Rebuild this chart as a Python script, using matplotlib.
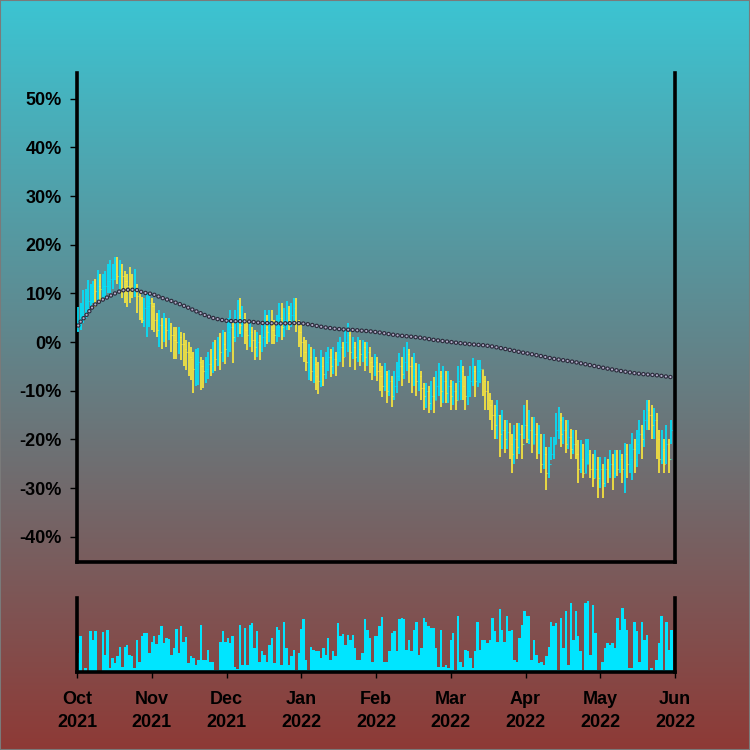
import numpy as np
import pandas as pd
import matplotlib
matplotlib.use("Agg")
import matplotlib.pyplot as plt
from matplotlib.patches import Rectangle

plt.rcParams['font.family'] = ['Liberation Sans', 'DejaVu Sans']
plt.rcParams['lines.scale_dashes'] = False

# Month labels under the volume panel
month_labels = ['Oct\n2021', 'Nov\n2021', 'Dec\n2021', 'Jan\n2022', 'Feb\n2022',
                'Mar\n2022', 'Apr\n2022', 'May\n2022', 'Jun\n2022']

# Daily close, high and low in percent (Oct 1 2021 .. May 31 2022)
close_pct = [
    # Oct
    3.4, 5, 6, 7, 8.5, 10, 11.5, 10.5, 11.5, 11, 11.5, 11.5, 12.5, 13, 13, 14,
    13.5, 14.5, 13.5, 12.5, 11.5, 11, 10.5, 10.5, 9.5, 5, 4.5, 7, 7.5, 8, 7.5,
    # Nov
    4.5, 2.5, 3.5, 2, 3, 2.5, 3.5, 1.5, 0.5, 0, 1, -0.5, -1.5, -2, -3, -3.5,
    -5.5, -4.5, -4, -5, -6, -5.5, -4.5, -5, -3, -3.5, -1.5, -2, -0.5, -1.5,
    # Dec
    2, 3, 1, 4, 5.5, 3.5, 5, 2.5, 1.5, 2, 0.5, -1, 0, -1.5, 1, 3,
    2, 4, 2.5, 1.5, 3, 5, 3, 4.5, 6, 4.5, 5.5, 7, 4, 2, 0,
    # Jan
    -2, -4, -3, -6, -4.5, -7, -8, -5, -6.5, -4, -3, -5, -3.5, -4.5, -2, -1,
    -3, 0, 1.5, -2, -1, -3, -1.5, -2.5, -1, -3, -2, -4, -5, -4, -6,
    # Feb
    -7, -9, -6.5, -10, -8, -11, -9, -7, -5, -6.5, -4, -2.5, -5, -7,
    -5.5, -8, -7, -9.5, -11, -10, -12.5, -11, -12, -9, -7, -10, -8, -10.5,
    # Mar
    -9, -11, -10, -12, -8, -6, -9, -11, -10, -8, -6, -8, -6, -5.5, -8, -10,
    -12, -13, -15, -17, -15, -19, -18, -20, -18.5, -21, -23, -20, -21.5, -19, -21,
    # Apr
    -17, -20, -18, -21, -19, -22, -20, -25, -23, -27, -25, -23, -21, -18, -16,
    -19, -18, -21, -19.5, -22, -21, -23, -26, -24, -27, -25, -23, -26, -28, -26,
    # May
    -28, -26, -29, -26, -27, -25, -27, -24, -26, -24, -26, -23, -25, -24, -22, -24,
    -21, -19, -20, -16, -14, -15, -17, -16, -20, -24, -22, -25, -21, -24, -18,
]
high_pct = [
    7.2, 8, 10.7, 11, 12.7, 12, 12.5, 13, 14.8, 14, 14, 14.5, 16, 16.8, 16, 17.5,
    17.5, 16.8, 16, 14.5, 14, 15.4, 14, 15, 12, 10.7, 9.3, 9, 10, 10, 9,
    8, 6, 6.5, 5, 6, 5, 5, 4, 3, 3, 3, 2, 1.8, 0.5, 0, -1,
    -2, -1.5, -1.2, -3, -3.7, -3, -2, -1.5, 0, 0.5, 1, 1.8, 2.5, 2,
    5, 6.6, 4, 6.5, 8.6, 9, 7.5, 6, 4.5, 4.5, 3, 2.5, 2, 1.5, 4, 6.6,
    5.5, 6.6, 6.6, 4.5, 5.5, 8, 8, 7, 8.5, 7.5, 8, 9, 9, 4.5, 3.5,
    1, 0.4, -0.5, -1, -1.5, -3, -4, -1.6, -3, -2, -1, -1.5, -1, -2, 0, 1,
    0, 2.5, 3.9, 2, 1, 0, 1, 0.5, 0.4, 0, 0, -1, -3, -2.5, -3,
    -4.3, -5, -4.3, -6, -5.7, -7, -6, -4, -2.3, -3, -1, 0, -1.5, -3,
    -2.3, -4.3, -4.5, -6, -8.4, -8.4, -9, -8, -7.2, -6, -4.3, -6, -5, -6,
    -6, -7.8, -8, -8.5, -5, -3.7, -5, -7, -7, -5, -3.3, -5, -3.7, -3.7, -5.7, -7,
    -8, -10.5, -12, -13, -12, -15, -14, -16, -16, -16.6, -19, -17, -16.6, -16.6, -17,
    -13, -12, -14, -15.4, -15.4, -16.6, -17, -19, -19, -21.5, -21.5, -19.5, -19.5, -14.5, -13.3,
    -14.5, -15.4, -16, -16, -17.8, -18, -18, -20.1, -20.1, -21, -20, -20, -22.2, -23, -22.2,
    -23.6, -23.6, -25, -23.6, -24, -22.2, -23, -22.2, -22.2, -22.2, -23, -20.8, -21, -21, -18.7, -20,
    -18, -16, -17, -14, -12, -12, -13, -13.5, -14.6, -18, -18, -20, -17, -20, -16,
]
low_pct = [
    2, 2.5, 4, 5, 6, 7, 8, 7.2, 8, 8, 9, 9, 10, 10, 11, 12.7,
    12, 11, 9, 8, 7.2, 8, 9, 9.2, 6, 4.5, 4, 3, 1, 3, 2.5,
    2, 1, -1, -1.5, 0, -1, 0.5, -2, -3.5, -3.5, -2.5, -3.7, -5, -5.7, -7, -7.8,
    -10.5, -9, -8.9, -9.9, -9.5, -8.5, -7.6, -7, -6.4, -6, -5, -5.7, -4, -4.5,
    -3, -2, -4.3, 0, 1, 1.7, 1, -0.5, -1.6, -1, -2, -3.7, -3, -3.7, -2, -1,
    -0.5, 0, -0.4, -0.4, 0, 1, 0.4, 1, 2.5, 2.5, 3, 4, 2, -1, -3,
    -4, -6, -7.8, -8, -8.5, -9.9, -10.6, -9.2, -9, -7.5, -6, -7.2, -6.5, -7, -5, -4,
    -5.1, -3, -2, -5.1, -3.5, -5.7, -4, -5, -4, -6, -5, -6.4, -7.8, -7, -8,
    -10, -11.3, -10, -12.6, -11, -13.3, -12, -10.5, -8, -9, -7.5, -6, -8.4, -10.5,
    -9, -11, -10, -11.9, -14, -13.5, -14.6, -14, -14.6, -12, -11, -13.3, -12.6, -12.6,
    -12.6, -14, -13, -14, -12, -11.9, -12, -14, -13, -11.3, -9, -11.3, -9.2, -8.5, -11, -14,
    -14, -16, -18, -20, -20, -23.6, -22, -22.8, -22, -24, -27, -25, -24, -23, -24,
    -20, -20.8, -21, -22.8, -21, -24, -23, -27, -26, -30.4, -28, -24.2, -24, -21, -20,
    -21.5, -21, -22.8, -22, -24, -23, -24, -29, -27, -28, -27, -25, -28, -29.8, -28,
    -32, -30, -32, -29.8, -29, -28, -30.4, -28, -27.6, -27, -29, -31, -28, -27, -28.3, -27,
    -25.6, -23, -24, -21.5, -18, -18, -20, -20, -24, -27, -25, -27, -25, -27, -21,
]
first_open = 2.5

# Daily volume (arbitrary units, panel top = 100)
volume = [
    25, 48, 1, 6, 1, 55, 43, 56, 1, 1, 54, 23, 57, 5, 19, 12, 21, 34,
    7, 34, 37, 23, 21, 5, 43, 13, 49, 53, 53, 25, 40, 48, 38, 50, 62, 39,
    46, 44, 23, 32, 58, 25, 62, 41, 47, 12, 21, 19, 9, 16, 64, 16, 16, 30,
    14, 14, 3, 3, 41, 56, 41, 46, 39, 48, 7, 4, 64, 10, 59, 10, 64, 66,
    32, 55, 14, 28, 23, 13, 37, 46, 12, 61, 57, 10, 68, 32, 10, 21, 30, 3,
    25, 58, 72, 16, 3, 34, 30, 28, 28, 19, 32, 23, 46, 16, 28, 21, 66, 48,
    52, 37, 50, 43, 50, 32, 16, 16, 25, 71, 57, 46, 14, 48, 48, 62,
    74, 14, 14, 28, 53, 55, 28, 71, 73, 72, 30, 43, 28, 57, 68, 23, 32, 73,
    68, 62, 59, 59, 32, 7, 57, 7, 10, 5, 43, 53, 3, 75, 14, 7, 30, 28,
    19, 5, 28, 68, 30, 43, 43, 39, 43, 73, 55, 41, 85, 57, 41, 75, 55, 57,
    16, 14, 46, 64, 82, 75, 75, 16, 43, 23, 12, 14, 10, 21, 34, 68, 62, 66,
    3, 73, 32, 82, 10, 93, 43, 82, 48, 28, 3, 93, 96, 23, 91, 53, 3, 3,
    14, 32, 39, 37, 39, 32, 73, 57, 86, 71, 57, 5, 5, 68, 55, 14, 68, 43,
    50, 3, 5, 3, 16, 39, 75, 3, 68, 30, 57,
]

cyan = '#00E5FF'
yellow = '#FFEB3B'

close = np.array(close_pct, dtype=float)
high = np.array(high_pct, dtype=float)
low = np.array(low_pct, dtype=float)
opn = np.concatenate([[first_open], close[:-1]])
vol = np.array(volume, dtype=float)
x = np.arange(len(close))
up = close >= opn

# running (expanding) average of the close
avg_close = pd.Series(close).expanding().mean().values

fig = plt.figure(figsize=(7.5, 7.5), dpi=100)

# background gradient over the whole figure
bg = fig.add_axes([0, 0, 1, 1], zorder=-10)
top_rgb = np.array([60, 196, 210]) / 255
bot_rgb = np.array([142, 58, 54]) / 255
t = np.linspace(0, 1, 256)[:, None]
grad = (1 - t) * top_rgb + t * bot_rgb
bg.imshow(grad[:, None, :], aspect='auto', extent=[0, 1, 0, 1])
bg.axis('off')
fig.patches.append(Rectangle((0, 0), 1, 1, transform=fig.transFigure, fill=False,
                             edgecolor='#7a7a7a', lw=1.5))

ax = fig.add_axes([0.1027, 0.2507, 0.7973, 0.652])
vax = fig.add_axes([0.1027, 0.104, 0.7973, 0.0987])
for a in (ax, vax):
    a.patch.set_alpha(0)
    a.spines['top'].set_visible(False)
    for s in ('left', 'bottom', 'right'):
        a.spines[s].set_linewidth(2.6)
        a.spines[s].set_color('black')
    a.set_xlim(-0.5, 243.5)

# OHLC bars
for mask, col in ((up, cyan), (~up, yellow)):
    ax.vlines(x[mask], low[mask], high[mask], color=col, lw=1.2, zorder=3)
    ax.hlines(opn[mask], x[mask] - 0.35, x[mask], color=col, lw=0.8, zorder=3)
    ax.hlines(close[mask], x[mask], x[mask] + 0.35, color=col, lw=0.8, zorder=3)

# dotted running average (dark ring, light centre)
ax.plot(x, avg_close, color='#2c2b3c', lw=3.3, linestyle=(0, (0.01, 3.25)),
        dash_capstyle='round', zorder=5)
ax.plot(x, avg_close, color='#b4aecb', lw=1.6, linestyle=(0, (0.01, 3.25)),
        dash_capstyle='round', zorder=6)

ax.set_ylim(-45.2, 55.3)
ax.set_yticks(np.arange(-40, 51, 10))
ax.set_yticklabels(['{:.0f}%'.format(v) for v in np.arange(-40, 51, 10)],
                   fontsize=13, fontweight='bold')
ax.tick_params(axis='y', direction='out', length=5, width=1, pad=6)
ax.set_xticks([])

# volume panel
vax.bar(x, vol, width=1.0, color=cyan, linewidth=0)
vax.set_ylim(0, 100)
vax.set_yticks([])
vax.set_xticks(np.linspace(-0.5, 243.5, len(month_labels)))
vax.set_xticklabels(month_labels, fontsize=13, fontweight='bold', linespacing=1.45)
vax.tick_params(axis='x', direction='out', length=4, width=1, pad=10)

plt.savefig('out.png', dpi=100)
